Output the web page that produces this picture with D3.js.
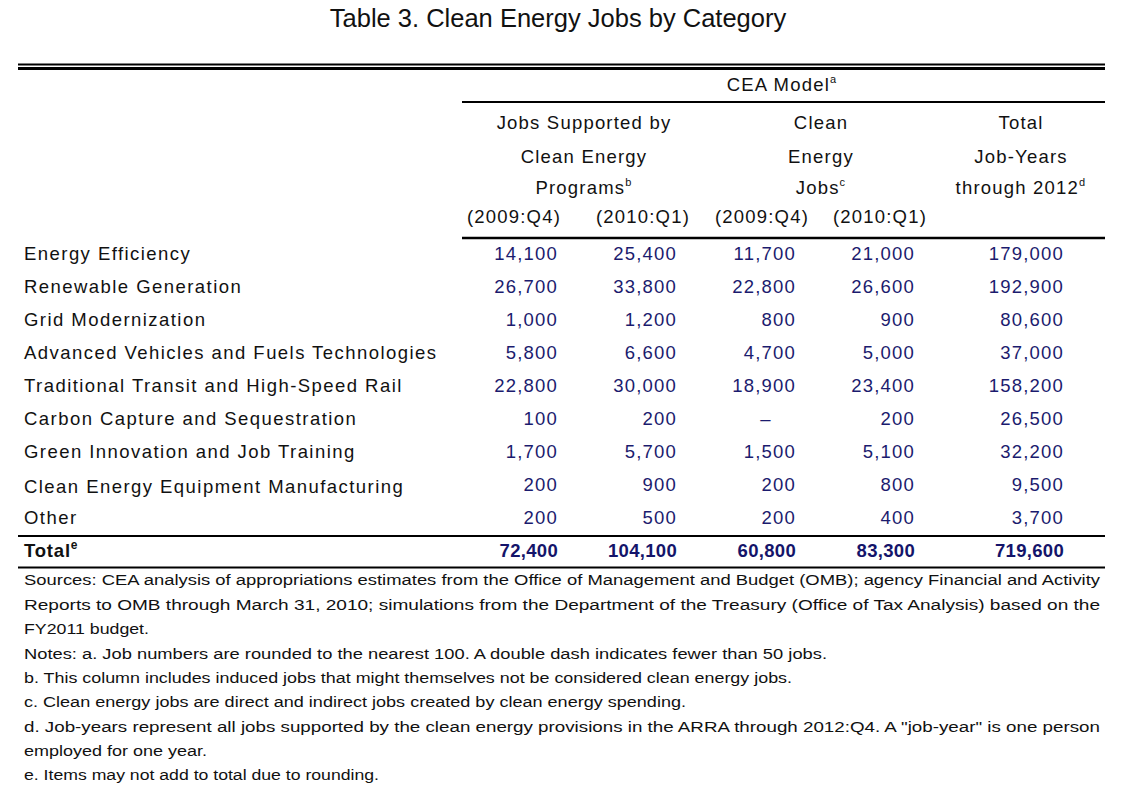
<!DOCTYPE html>
<html>
<head>
<meta charset="utf-8">
<script src="https://cdn.jsdelivr.net/npm/d3@7"></script>
<style>
  html, body { margin: 0; padding: 0; background: #fff; }
  svg { display: block; font-family: "Liberation Sans", Arial, sans-serif; }
</style>
</head>
<body>
<svg id="chart" width="1122" height="794"></svg>
<script>
// ---------- data ----------
const title = "Table 3. Clean Energy Jobs by Category";
const categories = [
  "Energy Efficiency",
  "Renewable Generation",
  "Grid Modernization",
  "Advanced Vehicles and Fuels Technologies",
  "Traditional Transit and High-Speed Rail",
  "Carbon Capture and Sequestration",
  "Green Innovation and Job Training",
  "Clean Energy Equipment Manufacturing",
  "Other"
];
const programsQ4_2009 = [14100, 26700, 1000, 5800, 22800, 100, 1700, 200, 200];
const programsQ1_2010 = [25400, 33800, 1200, 6600, 30000, 200, 5700, 900, 500];
const cleanQ4_2009    = [11700, 22800, 800, 4700, 18900, null, 1500, 200, 200];
const cleanQ1_2010    = [21000, 26600, 900, 5000, 23400, 200, 5100, 800, 400];
const jobYears2012    = [179000, 192900, 80600, 37000, 158200, 26500, 32200, 9500, 3700];
const totalLabel = "Total";
const totals = [72400, 104100, 60800, 83300, 719600];
const periodLabels = ["(2009:Q4)", "(2010:Q1)", "(2009:Q4)", "(2010:Q1)"];
const notes = [
  "Sources:  CEA analysis of appropriations estimates from the Office of Management and Budget (OMB); agency Financial and Activity",
  "Reports to OMB through March 31, 2010; simulations from the Department of the Treasury (Office of Tax Analysis) based on the",
  "FY2011 budget.",
  "Notes:  a. Job numbers are rounded to the nearest 100.  A double dash indicates fewer than 50 jobs.",
  "b. This column includes induced jobs that might themselves not be considered clean energy jobs.",
  "c. Clean energy jobs are direct and indirect jobs created by clean energy spending.",
  "d. Job-years represent all jobs supported by the clean energy provisions in the ARRA through 2012:Q4.  A \"job-year\" is one person",
  "employed for one year.",
  "e. Items may not add to total due to rounding."
];

// ---------- layout ----------
const svg = d3.select("#chart");
const colKeys = ["p09", "p10", "c09", "c10", "jy"];
const series = [programsQ4_2009, programsQ1_2010, cleanQ4_2009, cleanQ1_2010, jobYears2012];
const xRight = d3.scaleOrdinal().domain(colKeys).range([558, 677, 796, 915, 1064]);
const periodX = d3.scaleOrdinal().domain(d3.range(4)).range([514, 643, 762, 880]);
const rowKeys = categories.concat([totalLabel]);
const y = d3.scalePoint().domain(rowKeys).range([254, 551]);
const noteY = d3.scalePoint().domain(d3.range(notes.length)).range([580, 775]);
const noteWidths = [1076, 1076, 125, 803, 768, 662, 1076, 183, 355];
const fmt = d3.format(",");
const numColor = "#1b1b6e";
const bodySize = 18.5, spacing = 1.2, labelSpacing = 1.45;

// title
svg.append("text").attr("x", 558).attr("y", 18).attr("dy", "0.35em")
  .attr("text-anchor", "middle").attr("font-size", 25.5).attr("fill", "#111")
  .text(title);

// rules
const rule = (x1, x2, yy, w) => svg.append("line")
  .attr("x1", x1).attr("x2", x2).attr("y1", yy).attr("y2", yy)
  .attr("stroke", "#000").attr("stroke-width", w);
rule(18, 1105, 64.5, 2);
rule(18, 1105, 68.5, 3);
rule(462, 1105, 102, 2);
rule(462, 1105, 238, 2.5);
rule(18, 1105, 536, 2);
rule(18, 1105, 567.5, 2);

// header text helper
function headText(x, yy, txt, sup, anchor) {
  const t = svg.append("text").attr("x", x).attr("y", yy).attr("dy", "0.35em")
    .attr("text-anchor", anchor || "middle").attr("font-size", bodySize)
    .attr("letter-spacing", spacing).attr("fill", "#111");
  t.append("tspan").text(txt);
  if (sup) t.append("tspan").attr("font-size", 11).attr("dy", "-0.75em").text(sup);
  return t;
}
headText(782, 85, "CEA Model", "a");
headText(584, 123, "Jobs Supported by");
headText(584, 157, "Clean Energy");
headText(584, 188, "Programs", "b");
headText(821, 123, "Clean");
headText(821, 157, "Energy");
headText(821, 188, "Jobs", "c");
headText(1021, 123, "Total");
headText(1021, 157, "Job-Years");
headText(1021, 188, "through 2012", "d");
periodLabels.forEach((p, i) => headText(periodX(i), 217, p));

// row labels
svg.append("g").selectAll("text").data(categories).join("text")
  .attr("x", 24).attr("y", d => y(d) + (d.startsWith("Clean Energy Equip") ? 2 : 0)).attr("dy", "0.35em")
  .attr("font-size", bodySize).attr("letter-spacing", labelSpacing).attr("fill", "#111")
  .text(d => d);

// cells
const cells = [];
categories.forEach((c, r) => colKeys.forEach((k, j) => cells.push({ row: c, col: k, v: series[j][r] })));
svg.append("g").selectAll("text").data(cells).join("text")
  .attr("x", d => xRight(d.col) + (d.v == null ? -30 : 0))
  .attr("y", d => y(d.row)).attr("dy", "0.35em")
  .attr("text-anchor", d => d.v == null ? "middle" : "end")
  .attr("font-size", bodySize).attr("letter-spacing", spacing).attr("fill", numColor)
  .text(d => d.v == null ? "\u2013" : fmt(d.v));

// total row
const tl = svg.append("text").attr("x", 24).attr("y", y(totalLabel)).attr("dy", "0.35em")
  .attr("font-size", bodySize).attr("font-weight", "bold").attr("letter-spacing", 0.8).attr("fill", "#111");
tl.append("tspan").text(totalLabel);
tl.append("tspan").attr("font-size", 12).attr("dy", "-0.7em").text("e");
svg.append("g").selectAll("text").data(totals).join("text")
  .attr("x", (d, i) => xRight(colKeys[i])).attr("y", y(totalLabel)).attr("dy", "0.35em")
  .attr("text-anchor", "end").attr("font-size", bodySize).attr("font-weight", "bold")
  .attr("letter-spacing", 0.3).attr("fill", "#14146a")
  .text(d => fmt(d));

// notes
svg.append("g").selectAll("text").data(notes).join("text")
  .attr("x", 24).attr("y", (d, i) => noteY(i)).attr("dy", "0.35em")
  .attr("font-size", 15.5).attr("fill", "#111")
  .attr("textLength", (d, i) => noteWidths[i]).attr("lengthAdjust", "spacingAndGlyphs")
  .text(d => d);
</script>
</body>
</html>
